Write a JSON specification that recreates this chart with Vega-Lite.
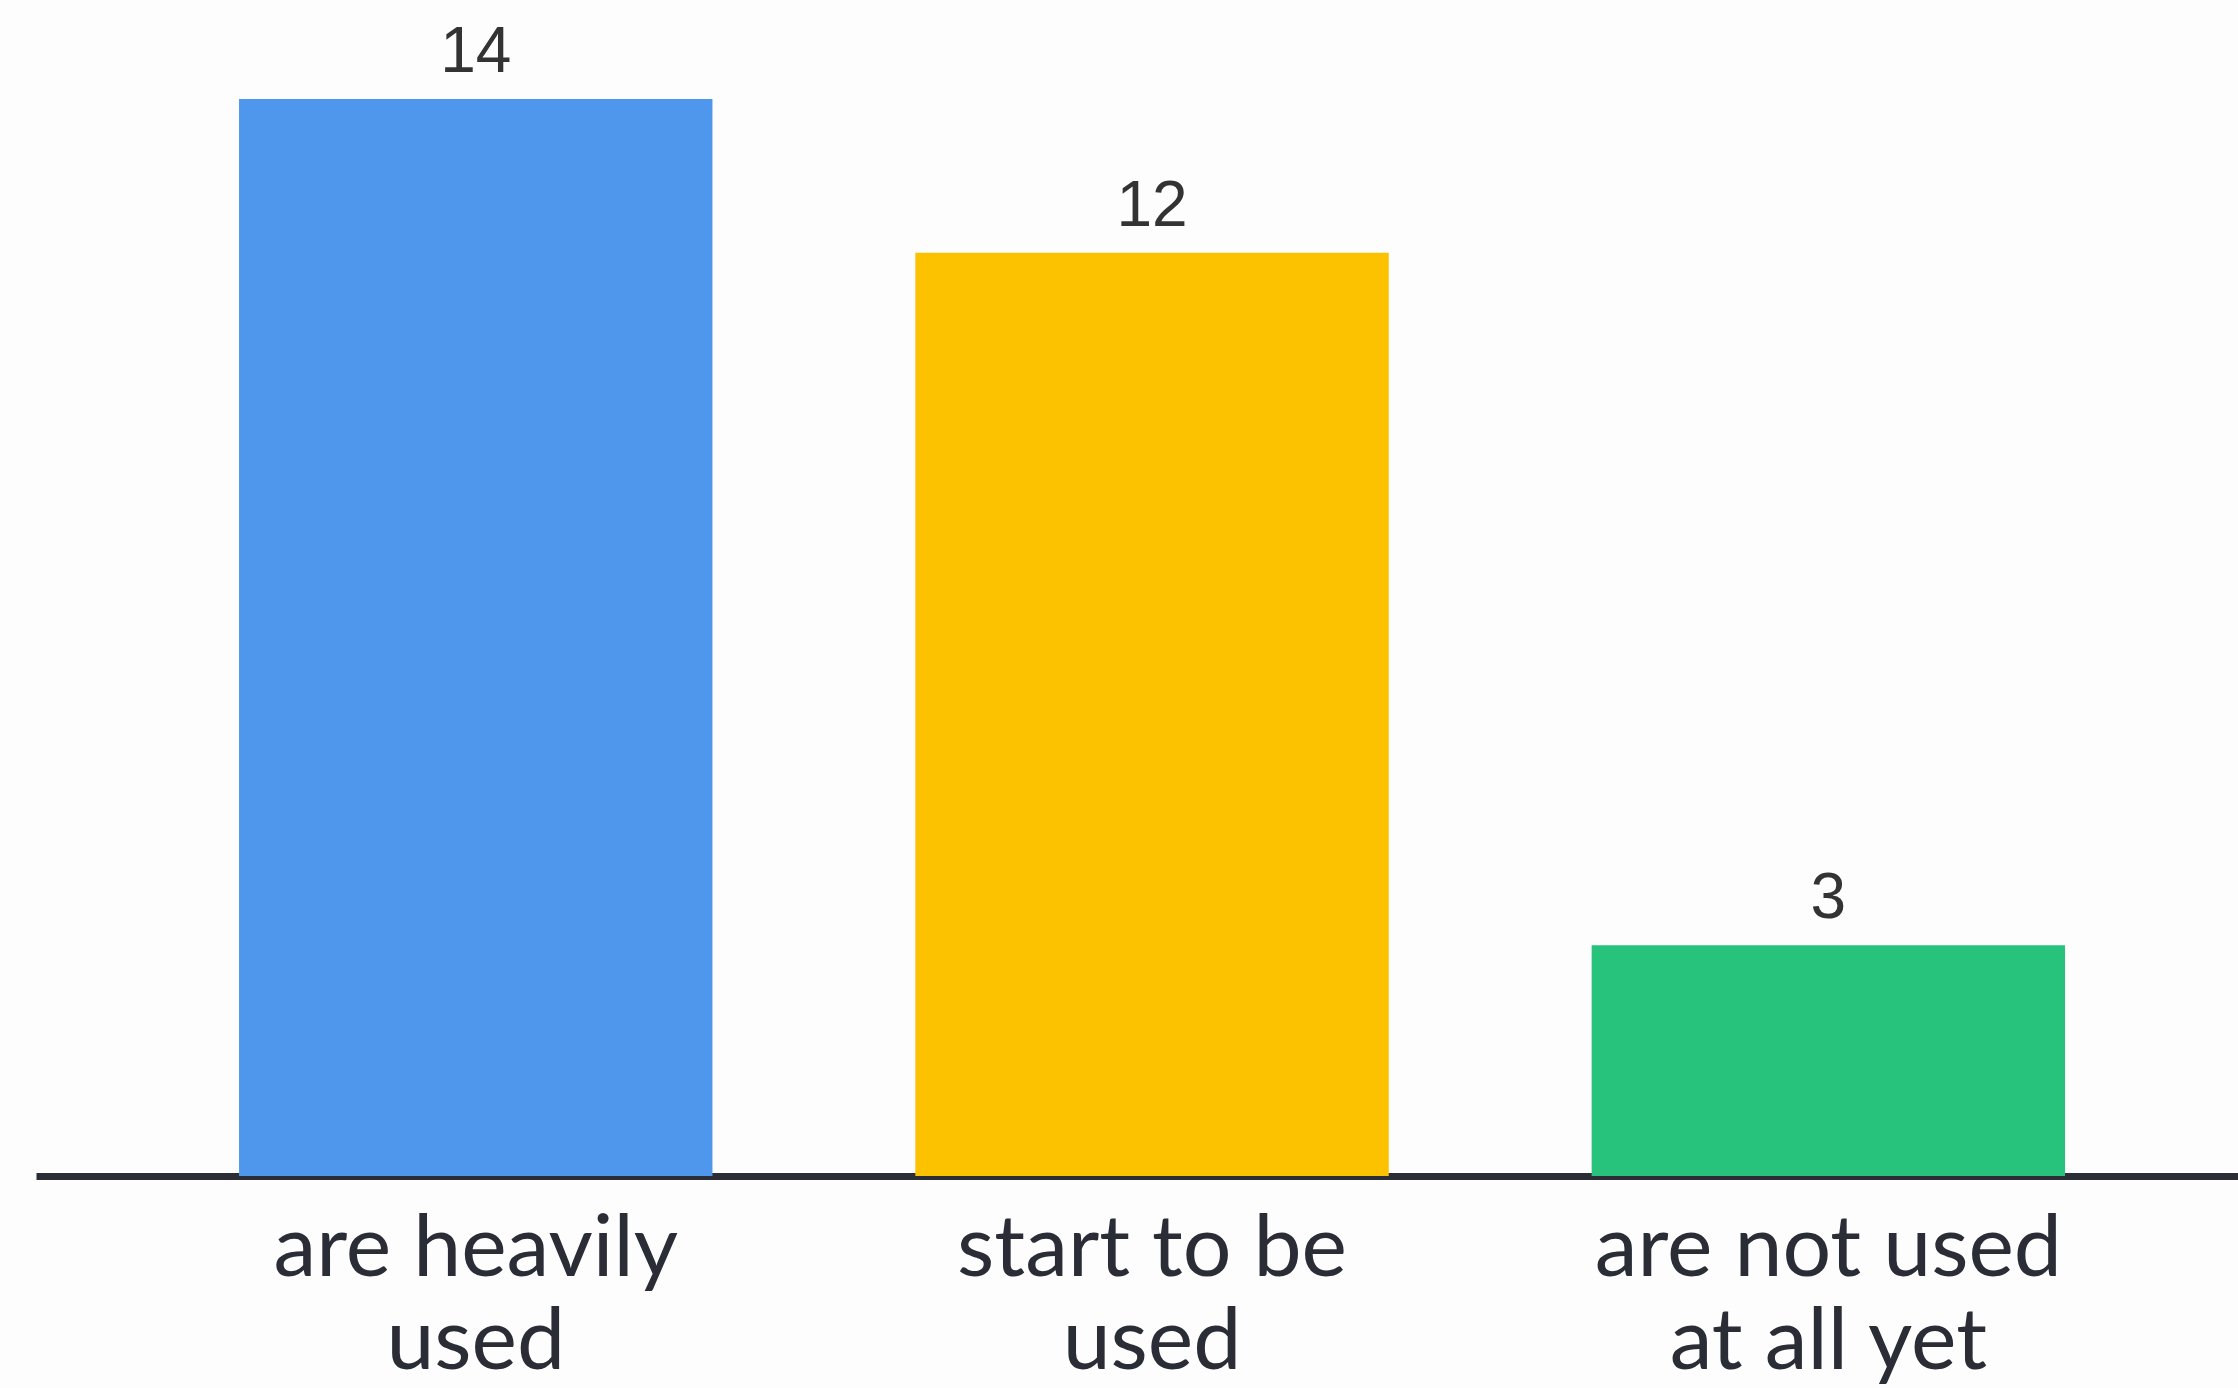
{
  "$schema": "https://vega.github.io/schema/vega-lite/v6.json",
  "autosize": {"type": "none"},
  "width": 2202,
  "height": 1154,
  "padding": {"left": 36, "top": 22, "right": 0, "bottom": 212},
  "background": "#fdfdfd",
  "config": {"view": {"stroke": null}},
  "data": {"values": [
    {"category": "are heavily used", "count": 14},
    {"category": "start to be used", "count": 12},
    {"category": "are not used at all yet", "count": 3}
  ]},
  "encoding": {
    "x": {
      "field": "category", "type": "nominal", "sort": null,
      "scale": {"paddingInner": 0.3, "paddingOuter": 0.278, "align": 0.54},
      "axis": {
        "title": null,
        "labelAngle": 0,
        "labelExpr": "datum.value == 'are heavily used' ? ['are heavily', 'used'] : datum.value == 'start to be used' ? ['start to be', 'used'] : ['are not used', 'at all yet']",
        "labelFont": "Lato",
        "labelFontSize": 86,
        "labelLineHeight": 93,
        "labelLimit": 2000,
        "labelColor": "#2a2d35",
        "labelPadding": 31,
        "labelBaseline": "top",
        "labelOverlap": false,
        "ticks": false,
        "domainColor": "#2a2d35",
        "domainWidth": 7,
        "grid": false
      }
    },
    "y": {
      "field": "count", "type": "quantitative",
      "scale": {"domain": [0, 15], "nice": false},
      "axis": null
    }
  },
  "layer": [
    {
      "mark": {"type": "bar"},
      "encoding": {
        "color": {
          "field": "category", "type": "nominal", "sort": null,
          "scale": {"domain": ["are heavily used", "start to be used", "are not used at all yet"], "range": ["#4f97ec", "#fcc200", "#27c27b"]},
          "legend": null
        }
      }
    },
    {
      "mark": {"type": "text", "baseline": "alphabetic", "dy": -27, "font": "Liberation Sans", "fontSize": 64, "color": "#333333"},
      "encoding": {"text": {"field": "count", "type": "quantitative"}}
    }
  ]
}
